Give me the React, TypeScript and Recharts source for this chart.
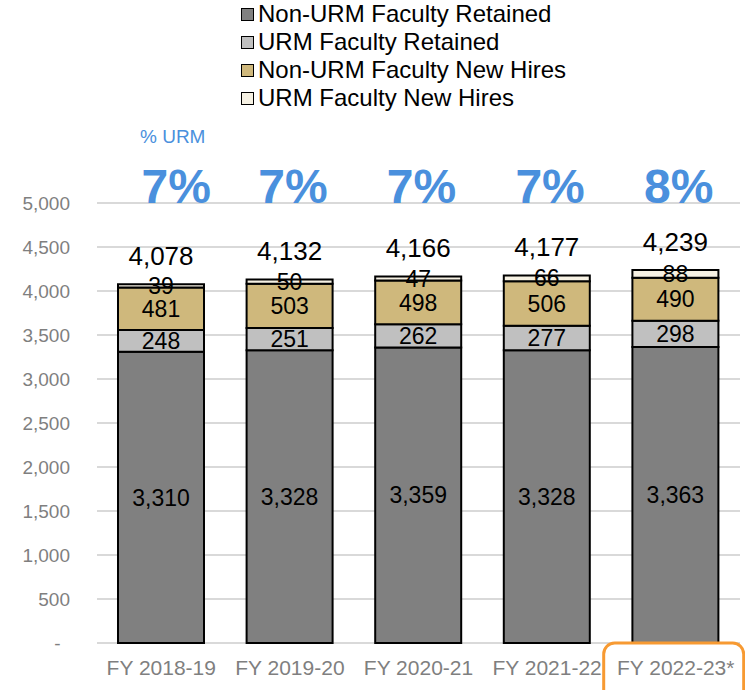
import { BarChart, Bar, XAxis, YAxis, CartesianGrid, LabelList } from 'recharts';

const years = ['FY 2018-19', 'FY 2019-20', 'FY 2020-21', 'FY 2021-22', 'FY 2022-23*'];
const nonUrmRetained = [3310, 3328, 3359, 3328, 3363];
const urmRetained = [248, 251, 262, 277, 298];
const nonUrmHires = [481, 503, 498, 506, 490];
const urmHires = [39, 50, 47, 66, 88];
const pctUrm = ['7%', '7%', '7%', '7%', '8%'];
const yTicks = [0, 500, 1000, 1500, 2000, 2500, 3000, 3500, 4000, 4500, 5000];

const series = [
  { key: 'nonUrmRetained', name: 'Non-URM Faculty Retained', color: '#808080' },
  { key: 'urmRetained', name: 'URM Faculty Retained', color: '#c0c0c0' },
  { key: 'nonUrmHires', name: 'Non-URM Faculty New Hires', color: '#cfb87c' },
  { key: 'urmHires', name: 'URM Faculty New Hires', color: '#f6f1e3' },
];

const data = years.map((year, i) => ({
  year,
  pct: pctUrm[i],
  nonUrmRetained: nonUrmRetained[i],
  urmRetained: urmRetained[i],
  nonUrmHires: nonUrmHires[i],
  urmHires: urmHires[i],
  total: nonUrmRetained[i] + urmRetained[i] + nonUrmHires[i] + urmHires[i],
}));

const font = '"Liberation Sans", Arial, Helvetica, sans-serif';
const fmt = (v: number) => (v === 0 ? '-\u2002' : v.toLocaleString('en-US'));

const YearTick = (props: any) => {
  const { x, y, payload, index } = props;
  return (
    <g>
      {index === years.length - 1 && (
        <rect x={x - 72} y={y - 8} width={140} height={62} rx={11} fill="none" stroke="#f79a32" strokeWidth={3} />
      )}
      <text x={x} y={y + 24} textAnchor="middle" fill="#7f7f7f" fontSize={21} fontFamily={font}>
        {payload.value}
      </text>
    </g>
  );
};

const PctTick = (props: any) => {
  const { x, y, index } = props;
  // the first label sits a little right of its bar, as in the source slide
  const dx = index === 0 ? 15 : 3;
  return (
    <text x={x + dx} y={y + 2} textAnchor="middle" fill="#4a90dd" fontSize={48} fontWeight="bold" fontFamily={font}>
      {pctUrm[index]}
    </text>
  );
};

export default function App() {
  return (
    <div style={{ position: 'absolute', left: 0, top: 0, width: 745, height: 690, background: '#fff', fontFamily: font }}>
      <BarChart
        width={745}
        height={690}
        data={data}
        margin={{ top: 143, right: 5, bottom: 0, left: 0 }}
        barSize={86}
      >
        <CartesianGrid vertical={false} stroke="#d9d9d9" strokeWidth={2} />
        <XAxis
          dataKey="year"
          height={47}
          axisLine={false}
          tickLine={false}
          interval={0}
          tick={<YearTick />}
        />
        <XAxis
          xAxisId="pct"
          dataKey="pct"
          orientation="top"
          height={60}
          axisLine={false}
          tickLine={false}
          tickSize={0}
          interval={0}
          tick={<PctTick />}
        />
        <YAxis
          width={97}
          domain={[0, 5000]}
          ticks={yTicks}
          interval={0}
          axisLine={false}
          tickLine={false}
          tickSize={6}
          tickMargin={21}
          tickFormatter={fmt}
          tick={{ fill: '#7f7f7f', fontSize: 19, fontFamily: font }}
        />
        {series.map((s, idx) => (
          <Bar
            key={s.key}
            dataKey={s.key}
            name={s.name}
            stackId="a"
            fill={s.color}
            stroke="#000"
            strokeWidth={2}
            isAnimationActive={false}
          >
            <LabelList
              dataKey={s.key}
              position="center"
              formatter={(v: any) => Number(v).toLocaleString('en-US')}
              style={{ fill: '#000', fontSize: 23, fontFamily: font }}
            />
            {idx === series.length - 1 && (
              <LabelList
                dataKey="total"
                position="top"
                offset={19}
                formatter={(v: any) => Number(v).toLocaleString('en-US')}
                style={{ fill: '#000', fontSize: 26, fontFamily: font }}
              />
            )}
          </Bar>
        ))}
      </BarChart>
      <div style={{ position: 'absolute', left: 140, top: 126, color: '#4a90dd', fontSize: 19 }}>% URM</div>
      <div style={{ position: 'absolute', left: 241, top: 0 }}>
        {series.map((s) => (
          <div key={s.key} style={{ display: 'flex', alignItems: 'center', height: 28, fontSize: 24, color: '#000' }}>
            <span
              style={{
                width: 11,
                height: 11,
                background: s.color,
                border: '1.5px solid #000',
                marginRight: 4,
                display: 'inline-block',
              }}
            />
            <span>{s.name}</span>
          </div>
        ))}
      </div>
    </div>
  );
}
